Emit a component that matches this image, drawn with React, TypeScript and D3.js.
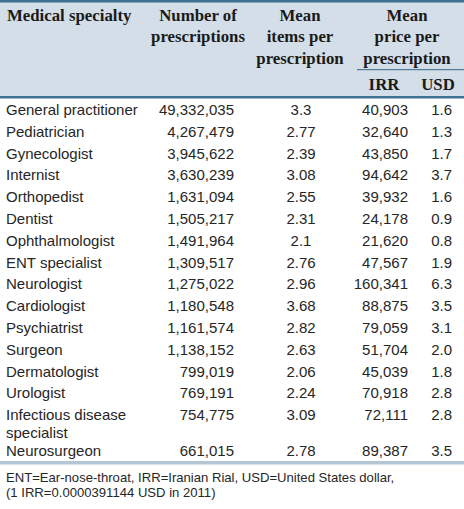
import React from "react";
import * as d3 from "d3";

const specialties = [
  "General practitioner", "Pediatrician", "Gynecologist", "Internist", "Orthopedist",
  "Dentist", "Ophthalmologist", "ENT specialist", "Neurologist", "Cardiologist",
  "Psychiatrist", "Surgeon", "Dermatologist", "Urologist", "Infectious disease\nspecialist",
  "Neurosurgeon",
];
const prescriptions = [
  49332035, 4267479, 3945622, 3630239, 1631094, 1505217, 1491964, 1309517, 1275022,
  1180548, 1161574, 1138152, 799019, 769191, 754775, 661015,
];
const itemsPerRx = [3.3, 2.77, 2.39, 3.08, 2.55, 2.31, 2.1, 2.76, 2.96, 3.68, 2.82, 2.63, 2.06, 2.24, 3.09, 2.78];
const priceIRR = [40903, 32640, 43850, 94642, 39932, 24178, 21620, 47567, 160341, 88875, 79059, 51704, 45039, 70918, 72111, 89387];
const priceUSD = [1.6, 1.3, 1.7, 3.7, 1.6, 0.9, 0.8, 1.9, 6.3, 3.5, 3.1, 2.0, 1.8, 2.8, 2.8, 3.5];
const footnotes = [
  "ENT=Ear-nose-throat, IRR=Iranian Rial, USD=United States dollar,",
  "(1 IRR=0.0000391144 USD in 2011)",
];

const W = 464, H = 509;
const serif = "'Liberation Serif', 'Times New Roman', serif";
const sans = "'Liberation Sans', Arial, sans-serif";

export default function App() {
  const fmtInt = d3.format(",");
  const fmtUsd = d3.format(".1f");
  // row start positions in "row units"; extra wrapped lines add a partial unit
  const rowStart: number[] = [];
  let acc = 0;
  specialties.forEach((s) => {
    rowStart.push(acc);
    acc += 1 + (s.split("\n").length - 1) * 0.63;
  });
  const ROW = 21.8;
  const y = d3.scaleLinear().domain([0, 1]).range([115, 115 + ROW]);
  const hy = d3.scaleLinear().domain([0, 1]).range([20.5, 42]);

  const headerColor = "#1a1a1a";
  const bodyColor = "#262626";
  return (
    <svg width={W} height={H} style={{ position: "absolute", left: 0, top: 0, background: "#fff" }}>
      <rect x={0} y={0} width={W} height={98} fill="#d4dee8" />
      <rect x={0} y={0} width={W} height={2.5} fill="#3f7292" />
      <rect x={0} y={96} width={W} height={2.5} fill="#3f7292" />
      <rect x={357} y={69} width={W - 357} height={1.2} fill="#4f7b96" />
      <g fontFamily={serif} fontWeight="bold" fontSize={16.8} fill={headerColor}>
        <text x={7} y={hy(0)}>Medical specialty</text>
        <text x={198} y={hy(0)} textAnchor="middle">Number of</text>
        <text x={198} y={hy(1)} textAnchor="middle">prescriptions</text>
        <text x={300} y={hy(0)} textAnchor="middle">Mean</text>
        <text x={300} y={hy(1)} textAnchor="middle">items per</text>
        <text x={300} y={hy(2)} textAnchor="middle">prescription</text>
        <text x={407} y={hy(0)} textAnchor="middle">Mean</text>
        <text x={407} y={hy(1)} textAnchor="middle">price per</text>
        <text x={407} y={hy(2)} textAnchor="middle">prescription</text>
        <text x={384} y={90} textAnchor="middle">IRR</text>
        <text x={438} y={90} textAnchor="middle">USD</text>
      </g>
      <g fontFamily={sans} fontSize={15} fill={bodyColor}>
        {specialties.map((s, i) => {
          const yy = y(rowStart[i]);
          return (
            <g key={i}>
              {s.split("\n").map((ln, k) => (
                <text key={k} x={6} y={yy + k * 17.5}>{ln}</text>
              ))}
              <text x={234} y={yy} textAnchor="end">{fmtInt(prescriptions[i])}</text>
              <text x={301} y={yy} textAnchor="middle">{String(itemsPerRx[i])}</text>
              <text x={408} y={yy} textAnchor="end">{fmtInt(priceIRR[i])}</text>
              <text x={452} y={yy} textAnchor="end">{fmtUsd(priceUSD[i])}</text>
            </g>
          );
        })}
      </g>
      <rect x={0} y={461} width={W} height={3.5} fill="#b4c5d4" />
      <g fontFamily={sans} fontSize={13.1} fill={bodyColor}>
        {footnotes.map((f, i) => (
          <text key={i} x={6} y={481.5 + i * 15.5}>{f}</text>
        ))}
      </g>
    </svg>
  );
}
